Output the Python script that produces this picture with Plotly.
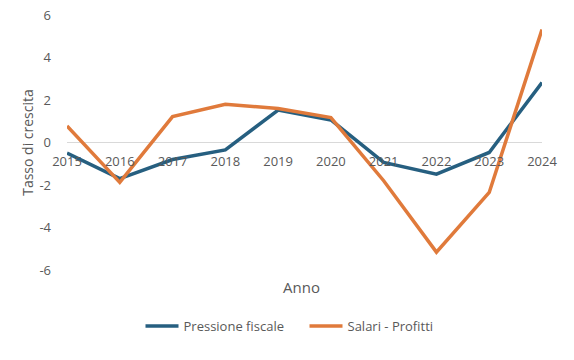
import plotly.graph_objects as go

anni = [2015, 2016, 2017, 2018, 2019, 2020, 2021, 2022, 2023, 2024]
pressione_fiscale = [-0.5, -1.7, -0.8, -0.35, 1.53, 1.06, -0.94, -1.49, -0.47, 2.82]
salari_profitti = [0.78, -1.88, 1.22, 1.8, 1.6, 1.17, -1.8, -5.16, -2.35, 5.32]
y_ticks = [-6, -4, -2, 0, 2, 4, 6]
y_tick_labels = ["-6", "-4", "-2", "0", "2", "4", "6"]

fig = go.Figure()
fig.add_trace(go.Scatter(x=anni, y=pressione_fiscale, mode="lines", name="Pressione fiscale",
                         line=dict(color="#265F80", width=3.5)))
fig.add_trace(go.Scatter(x=anni, y=salari_profitti, mode="lines", name="Salari - Profitti",
                         line=dict(color="#E07A3B", width=3.5)))

font_fam = "Open Sans, Liberation Sans, Arial, sans-serif"
fig.update_layout(
    width=574, height=360,
    margin=dict(l=67, r=32, t=15, b=90, autoexpand=False),
    plot_bgcolor="white", paper_bgcolor="white",
    font=dict(family=font_fam, color="#595959", size=13),
    showlegend=True,
    legend=dict(orientation="h", x=0.5, xanchor="center", y=-0.161, yanchor="top",
                itemwidth=33, entrywidth=116,
                font=dict(size=13, color="#595959")),
    xaxis=dict(range=[2015, 2024], tickvals=anni, ticktext=[str(a) for a in anni],
               showgrid=False, zeroline=False, showline=False, automargin=False,
               anchor="free", position=0.5, ticks="", ticklabelstandoff=9,
               ticklabeloverflow="allow",
               tickfont=dict(size=13, color="#595959"),
               title=None),
    yaxis=dict(range=[-6, 6], tickvals=y_ticks, ticktext=y_tick_labels, showgrid=False, automargin=False,
               zeroline=True, zerolinecolor="#D9D9D9", zerolinewidth=1,
               showline=False, ticks="", ticklabelstandoff=15, ticklabeloverflow="allow",
               tickfont=dict(size=13, color="#595959"),
               title=dict(text="Tasso di crescita", font=dict(size=14, color="#595959"), standoff=2)),
    annotations=[dict(text="Anno", x=0.493, xref="paper", y=(270 - 287) / 255.0, yref="paper",
                      yanchor="middle", showarrow=False, font=dict(size=15, color="#595959"))],
)
fig.write_html("out.html", config={"displayModeBar": False},
               post_script="document.body.style.margin='0';")
